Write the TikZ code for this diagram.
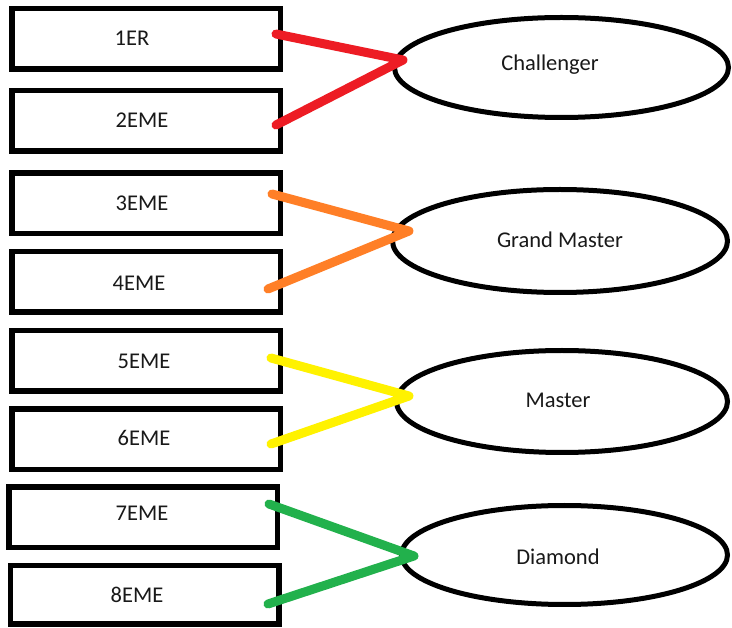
\documentclass[tikz,border=0pt]{standalone}
\usepackage{fontspec}
\setmainfont{Carlito}
\usetikzlibrary{shapes.geometric}
\definecolor{pred}{RGB}{237,28,36}
\definecolor{porange}{RGB}{255,127,39}
\definecolor{pyellow}{RGB}{255,242,0}
\definecolor{pgreen}{RGB}{34,177,76}
\tikzset{
  rankbox/.style={draw=black, line width=5.5pt, minimum width=268.5pt, minimum height=60.5pt, inner sep=0pt},
  tier/.style={draw=black, ellipse, line width=5pt, inner sep=0pt},
  lbl/.style={font=\fontsize{22.5pt}{26pt}\selectfont, text=black!90, inner sep=0pt, anchor=center},
  link/.style={line width=9pt, line cap=round, line join=round}
}
\begin{document}
\begin{tikzpicture}[x=1pt, y=-1pt]
\useasboundingbox[fill=white] (0,0) rectangle (732,628);
% boxes
\node[rankbox] (b1) at (146,39) {};
\node[rankbox] (b2) at (146,121) {};
\node[rankbox] (b3) at (146,203.5) {};
\node[rankbox] (b4) at (146,282) {};
\node[rankbox] (b5) at (146,361) {};
\node[rankbox] (b6) at (146,439.5) {};
\node[rankbox] (b7) at (143,517.5) {};
\node[rankbox, minimum height=58.5pt] (b8) at (144.5,595) {};
% box labels
\node[lbl] (t1) at (132,38) {1ER};
\node[lbl] (t2) at (142,120) {2EME};
\node[lbl] (t3) at (142,203) {3EME};
\node[lbl] (t4) at (139,283) {4EME};
\node[lbl] (t5) at (144,361) {5EME};
\node[lbl] (t6) at (144,438) {6EME};
\node[lbl] (t7) at (142,513) {7EME};
\node[lbl] (t8) at (137,595) {8EME};
% ellipses
\node[tier, minimum width=334pt, minimum height=100pt] (e1) at (561.5,67.5) {};
\node[tier, minimum width=335pt, minimum height=103pt] (e2) at (560,241) {};
\node[tier, minimum width=331pt, minimum height=102pt] (e3) at (562,401.5) {};
\node[tier, minimum width=326pt, minimum height=99pt] (e4) at (564.5,555) {};
% ellipse labels
\node[lbl] (l1) at (550,65) {Challenger};
\node[lbl] (l2) at (560,240) {Grand Master};
\node[lbl] (l3) at (558,400) {Master};
\node[lbl] (l4) at (558,557) {Diamond};
% connector points
\coordinate (r1) at (276,34);
\coordinate (r2) at (276,125);
\coordinate (ra) at (403,60);
\coordinate (o1) at (272,194);
\coordinate (o2) at (268,289);
\coordinate (oa) at (409,231);
\coordinate (y1) at (271,358);
\coordinate (y2) at (271,444);
\coordinate (ya) at (409,396);
\coordinate (g1) at (269,504);
\coordinate (g2) at (268,604);
\coordinate (ga) at (414,556);
% connectors
\draw[link, pred] (r1) -- (ra) -- (r2);
\draw[link, porange] (o1) -- (oa) -- (o2);
\draw[link, pyellow] (y1) -- (ya) -- (y2);
\draw[link, pgreen] (g1) -- (ga) -- (g2);
\end{tikzpicture}
\end{document}
